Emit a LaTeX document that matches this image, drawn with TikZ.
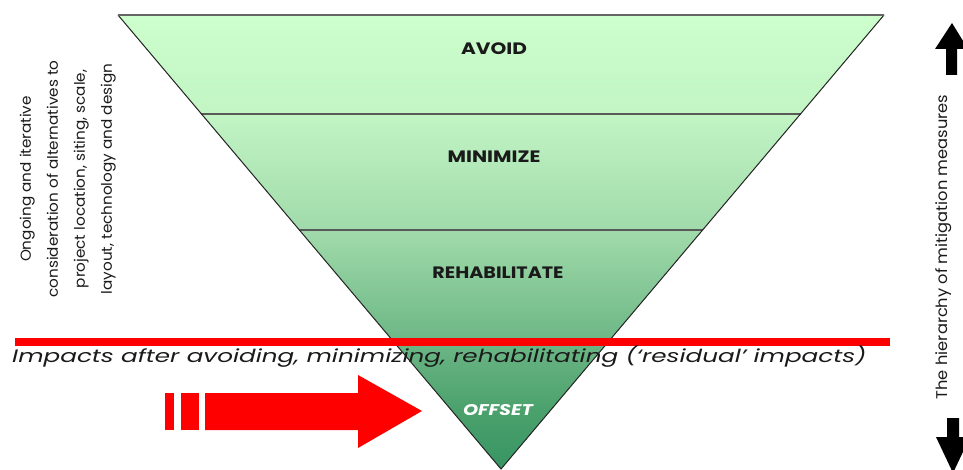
\documentclass[tikz,border=0pt]{standalone}
\usepackage{graphicx}
\usepackage{fontspec}
\setmainfont{Poppins}
\usetikzlibrary{calc}
\definecolor{g0}{HTML}{CCFFCC}
\definecolor{g1}{HTML}{C2F4C4}
\definecolor{g2}{HTML}{A0DAAA}
\definecolor{g3}{HTML}{6CB685}
\definecolor{g4}{HTML}{4BA16C}
\definecolor{gB}{HTML}{379563}
\definecolor{redbar}{HTML}{FF0000}
\definecolor{txt}{HTML}{1A1A1A}
\newcommand{\widen}[2]{\scalebox{#1}[1]{#2}}
\pgfdeclareverticalshading{pyr}{100bp}{color(0bp)=(gB); color(25bp)=(gB); color(31.5bp)=(g4); color(39bp)=(g3); color(51bp)=(g2); color(64bp)=(g1); color(75bp)=(g0); color(100bp)=(g0)}
\tikzset{
  edge/.style={draw=black!85, line width=1pt, line join=miter},
  topedge/.style={draw=black!60, line width=1.5pt},
  divider/.style={draw=black!65, line width=1.5pt},
  lab/.style={font=\fontsize{16.5}{18}\selectfont\bfseries, text=txt, inner sep=0pt},
  offlab/.style={font=\fontsize{15.5}{17}\selectfont\bfseries\itshape, text=white, inner sep=0pt},
  sidetext/.style={font=\fontsize{14.5}{27}\selectfont, text=txt, inner sep=0pt, rotate=90},
  redfill/.style={fill=redbar, draw=none},
  blackfill/.style={fill=black, draw=none}
}
\begin{document}
\begin{tikzpicture}[x=1pt,y=1pt]
\useasboundingbox (0,-470) rectangle (963,0);
% pyramid
\coordinate (TL) at (118,-15);
\coordinate (TR) at (884,-15);
\coordinate (AP) at (501,-469);
\fill[shading=pyr] (TL) -- (TR) -- (AP) -- cycle;
\coordinate (D1L) at ($(TL)!0.218!(AP)$);
\coordinate (D1R) at ($(TR)!0.218!(AP)$);
\coordinate (D2L) at ($(TL)!0.4736!(AP)$);
\coordinate (D2R) at ($(TR)!0.4736!(AP)$);
\draw[divider] (D1L) -- (D1R);
\draw[divider] (D2L) -- (D2R);
\draw[edge] (TL) -- (AP) -- (TR);
\draw[topedge] (TL) -- (TR);
\node[lab] (avoid) at (494,-49) {\widen{1.22}{AVOID}};
\node[lab] (minimize) at (494,-157) {\widen{1.22}{MINIMIZE}};
\node[lab] (rehab) at (498,-273) {\widen{1.16}{REHABILITATE}};
\node[offlab] (offset) at (498,-410) {\widen{1.24}{OFFSET}};
% red line and residual text
\coordinate (RL) at (15,-342);
\coordinate (RR) at (890,-342);
\draw[draw=redbar, line width=8pt] (RL) -- (RR);
\node[anchor=base west, inner sep=0pt, text=txt, font=\fontsize{18}{21}\selectfont\itshape] (resid) at (12,-362.5) {\widen{1.37}{Impacts after avoiding, minimizing, rehabilitating (‘residual’ impacts)}};
% red arrow
\fill[redfill] (165,-393) rectangle (174,-430);
\fill[redfill] (181,-393) rectangle (199,-430);
\fill[redfill] (205,-393) -- (358,-393) -- (358,-375) -- (422,-411) -- (358,-448) -- (358,-430) -- (205,-430) -- cycle;
% left text
\node[sidetext] (alt) at (66,-179) {\widen{1.05}{\begin{tabular}{@{}c@{}}Ongoing and iterative\\consideration of alternatives to\\project location, siting, scale,\\layout, technology and design\end{tabular}}};
% right side
\node[sidetext, font=\fontsize{15.5}{17}\selectfont] (hier) at (944,-247) {\widen{1.05}{The hierarchy of mitigation measures}};
\fill[blackfill] (952,-23) -- (968,-49) -- (957,-49) -- (957,-75) -- (946,-75) -- (946,-49) -- (935,-49) -- cycle;
\fill[blackfill] (947,-418) -- (959,-418) -- (959,-437) -- (970,-437) -- (953,-473) -- (936,-437) -- (947,-437) -- cycle;
\end{tikzpicture}
\end{document}
